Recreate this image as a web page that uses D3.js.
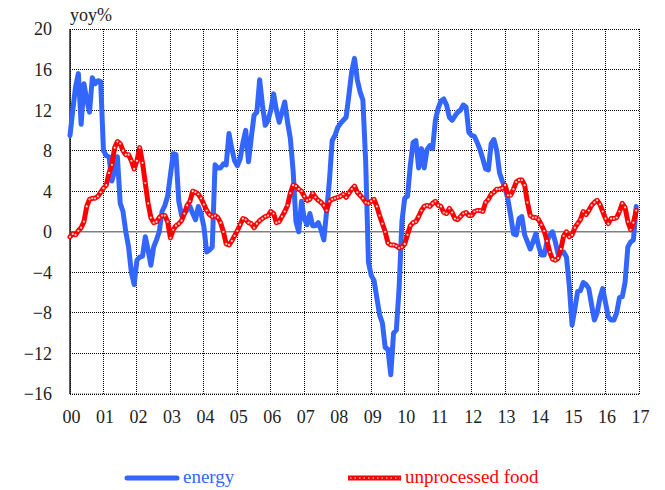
<!DOCTYPE html>
<html>
<head>
<meta charset="utf-8">
<script src="https://cdn.jsdelivr.net/npm/d3@7/dist/d3.min.js"></script>
<style>
  html, body { margin: 0; padding: 0; background: #fff; }
  svg { display: block; }
  text { font-family: "Liberation Serif", "Times New Roman", serif; }
</style>
</head>
<body>
<svg id="chart" width="665" height="490"></svg>
<script>
// Monthly year-on-year inflation, Jan 2000 - Dec 2016
const startYear = 2000;

const energy = [
  // 2000
  9.5, 12.0, 14.3, 15.6, 10.6, 14.6, 13.0, 11.8, 15.2, 14.6, 14.9, 14.8,
  // 2001
  8.0, 7.5, 7.4, 5.0, 6.0, 7.4, 2.8, 2.0, 0.0, -1.5, -4.0, -5.2,
  // 2002
  -2.8, -2.5, -2.4, -0.5, -1.8, -3.3, -1.5, -0.8, 0.0, 2.0, 2.6, 3.5,
  // 2003
  5.6, 7.7, 7.6, 3.0, 1.6, 1.8, 2.2, 2.5, 1.8, 1.2, 2.5, 1.8,
  // 2004
  0.5, -2.0, -1.8, -1.5, 6.6, 6.3, 6.3, 6.7, 6.6, 9.7, 8.2, 7.0,
  // 2005
  6.5, 7.2, 8.8, 10.0, 6.9, 9.3, 11.5, 11.8, 15.0, 12.5, 10.5, 11.0,
  // 2006
  12.0, 13.6, 12.0, 10.8, 11.8, 12.8, 10.8, 9.2, 6.0, 1.0, 0.0, 3.0,
  // 2007
  1.3, 0.7, 1.8, 0.6, 0.6, 0.9, 0.2, -0.8, 2.0, 5.0, 9.0, 9.5,
  // 2008
  10.3, 10.7, 11.0, 11.3, 13.5, 15.8, 17.1, 15.0, 13.8, 13.0, 7.0, -3.0,
  // 2009
  -4.3, -4.8, -6.5, -8.2, -9.0, -11.4, -11.6, -14.1, -10.0, -9.7, -5.5, 1.0,
  // 2010
  3.3, 3.5, 6.5, 8.8, 9.0, 6.3, 8.2, 6.3, 8.1, 8.5, 8.2, 11.0,
  // 2011
  12.2, 12.9, 13.1, 12.5, 11.3, 11.0, 11.4, 11.8, 12.0, 12.5, 12.3, 9.8,
  // 2012
  9.5, 9.4, 8.8, 8.1, 7.2, 6.2, 6.1, 8.7, 9.1, 8.0, 5.8, 5.0,
  // 2013
  4.3, 3.2, 1.6, -0.2, -0.3, 1.3, 1.5, -0.3, -1.0, -1.7, -1.0, -0.2,
  // 2014
  -1.4, -2.3, -2.3, -1.0, -0.3, 0.0, -1.0, -2.2, -2.1, -2.0, -2.5, -5.3,
  // 2015
  -9.2, -7.6, -5.9, -5.8, -5.0, -5.2, -5.6, -7.2, -8.7, -8.0, -6.5, -5.6,
  // 2016
  -7.0, -8.4, -8.7, -8.7, -8.0, -6.5, -6.4, -5.0, -1.5, -1.0, -0.8, 2.5
];

const unprocessedFood = [
  // 2000
  -0.5, -0.2, -0.3, 0.1, 0.4, 1.0, 2.5, 3.2, 3.3, 3.3, 3.5, 3.9,
  // 2001
  4.3, 4.6, 5.8, 6.6, 8.3, 8.9, 8.7, 8.0, 7.6, 7.6, 7.0, 6.2,
  // 2002
  7.0, 8.3, 6.8, 4.8, 2.8, 1.4, 0.9, 1.0, 1.4, 1.6, 1.6, 1.0,
  // 2003
  -0.6, 0.2, 0.6, 0.8, 1.1, 1.8, 2.6, 3.0, 4.0, 3.9, 3.7, 3.3,
  // 2004
  2.7, 2.1, 1.7, 1.5, 1.6, 1.4, 0.9, 0.0, -1.2, -1.3, -0.9, -0.4,
  // 2005
  0.1, 0.7, 1.3, 1.2, 0.9, 0.8, 0.4, 0.8, 1.1, 1.3, 1.5, 1.6,
  // 2006
  2.0, 1.8, 0.9, 1.0, 1.5, 2.0, 2.6, 3.8, 4.6, 4.5, 4.2, 4.0,
  // 2007
  3.5, 3.1, 3.2, 3.8, 3.4, 3.1, 2.9, 2.6, 2.1, 3.0, 3.2, 3.3,
  // 2008
  3.4, 3.5, 3.7, 3.4, 3.8, 4.2, 4.5, 3.9, 3.6, 3.3, 2.9, 2.8,
  // 2009
  3.0, 3.2, 2.5, 1.6, 0.8, 0.0, -1.1, -1.3, -1.3, -1.4, -1.6, -1.5,
  // 2010
  -1.2, -0.3, 0.6, 0.9, 1.0, 1.5, 2.1, 2.5, 2.6, 2.5, 2.8, 3.0,
  // 2011
  2.6, 2.5, 1.9, 1.8, 2.3, 1.9, 1.3, 1.2, 1.5, 1.8, 1.9, 1.6,
  // 2012
  1.6, 2.0, 2.1, 2.1, 2.0, 2.9, 3.2, 3.7, 3.9, 4.2, 4.2, 4.3,
  // 2013
  4.6, 3.6, 3.6, 4.2, 4.9, 5.1, 5.1, 4.6, 2.9, 1.6, 1.4, 1.4,
  // 2014
  1.2, 0.7, 0.1, -0.9, -2.0, -2.7, -2.8, -2.6, -1.7, -0.4, 0.0, -0.5,
  // 2015
  -0.3, 0.4, 0.8, 1.2, 2.0, 1.7, 2.1, 2.6, 2.9, 3.1, 2.7, 2.0,
  // 2016
  1.3, 0.8, 1.3, 1.3, 1.4, 2.0, 2.8, 2.4, 1.0, 0.2, 0.9, 2.1
];

const yTicks = [-16, -12, -8, -4, 0, 4, 8, 12, 16, 20];
const xTickLabels = ["00","01","02","03","04","05","06","07","08","09",
                     "10","11","12","13","14","15","16","17"];
const seriesNames = ["energy", "unprocessed food"];

const colors = { energy: "#3366ff", food: "#ff0000" };

const svg = d3.select("#chart");
const plot = { left: 70, right: 639, top: 29, bottom: 394 };

const x = d3.scaleLinear().domain([startYear, startYear + 17]).range([plot.left, plot.right]);
const y = d3.scaleLinear().domain([-16, 20]).range([plot.bottom, plot.top]);

const yearTicks = xTickLabels.map((_, i) => startYear + i);

// dotted grid
const grid = svg.append("g").attr("class", "grid");
grid.selectAll("line.h").data(yTicks).join("line")
  .attr("x1", plot.left).attr("x2", plot.right)
  .attr("y1", d => y(d)).attr("y2", d => y(d))
  .attr("stroke", "#000").attr("stroke-width", 1)
  .attr("stroke-dasharray", "1,1")
  .attr("shape-rendering", "crispEdges");
grid.selectAll("line.v").data(yearTicks).join("line")
  .attr("x1", d => x(d)).attr("x2", d => x(d))
  .attr("y1", plot.top).attr("y2", plot.bottom)
  .attr("stroke", "#000").attr("stroke-width", 1)
  .attr("stroke-dasharray", "1,1")
  .attr("shape-rendering", "crispEdges");

// zero line
svg.append("line")
  .attr("x1", plot.left).attr("x2", plot.right)
  .attr("y1", y(0)).attr("y2", y(0))
  .attr("stroke", "#808080").attr("stroke-width", 1.6);

// left axis line
svg.append("line")
  .attr("x1", plot.left).attr("x2", plot.left)
  .attr("y1", plot.top).attr("y2", plot.bottom)
  .attr("stroke", "#000").attr("stroke-width", 1.3);
svg.append("line")
  .attr("x1", plot.left).attr("x2", plot.right)
  .attr("y1", plot.bottom).attr("y2", plot.bottom)
  .attr("stroke", "#000").attr("stroke-width", 0.8)
  .attr("stroke-dasharray", "1,1");

// y axis labels
const yAxis = d3.axisLeft(y).tickValues(yTicks).tickSize(0).tickPadding(0).tickFormat(d3.format("d"));
const yg = svg.append("g").attr("transform", `translate(${plot.left - 18},0)`).call(yAxis);
yg.select(".domain").remove();
yg.selectAll("text")
  .attr("font-family", "Liberation Serif, serif")
  .attr("font-size", 18).attr("fill", "#222").attr("dy", "0.33em");

// x axis labels
const xAxis = d3.axisBottom(x).tickValues(yearTicks).tickSize(0).tickPadding(0)
  .tickFormat((d, i) => xTickLabels[i]);
const xg = svg.append("g").attr("transform", `translate(1,${plot.bottom + 29})`).call(xAxis);
xg.select(".domain").remove();
xg.selectAll("text")
  .attr("font-family", "Liberation Serif, serif")
  .attr("font-size", 18).attr("fill", "#222").attr("dy", 0);

// unit label
svg.append("text").attr("x", 70).attr("y", 21)
  .attr("font-size", 18).attr("fill", "#222").text("yoy%");

const toPoints = arr => arr.map((v, i) => ({ t: startYear + i / 12, v }));
const line = d3.line().x(d => x(d.t)).y(d => y(d.v)).curve(d3.curveLinear);

const energyPts = toPoints(energy);
const foodPts = toPoints(unprocessedFood);

svg.append("path").datum(energyPts)
  .attr("d", line).attr("fill", "none")
  .attr("stroke", colors.energy).attr("stroke-width", 5)
  .attr("stroke-linejoin", "round").attr("stroke-linecap", "round");

svg.append("path").datum(foodPts)
  .attr("d", line).attr("fill", "none")
  .attr("stroke", colors.food).attr("stroke-width", 5)
  .attr("stroke-linejoin", "round").attr("stroke-linecap", "round");

// light markers on every monthly observation
svg.append("g").selectAll("circle").data(foodPts).join("circle")
  .attr("cx", d => x(d.t)).attr("cy", d => y(d.v)).attr("r", 1.1)
  .attr("fill", "#ffd6d6");

// legend
const legY = 478;
svg.append("line").attr("x1", 127).attr("x2", 177).attr("y1", legY).attr("y2", legY)
  .attr("stroke", colors.energy).attr("stroke-width", 5).attr("stroke-linecap", "round");
svg.append("text").attr("x", 183).attr("y", legY + 5)
  .attr("font-size", 19).attr("fill", colors.energy).text(seriesNames[0]);

svg.append("line").attr("x1", 348).attr("x2", 401).attr("y1", legY).attr("y2", legY)
  .attr("stroke", colors.food).attr("stroke-width", 5);
svg.append("line").attr("x1", 350).attr("x2", 400).attr("y1", legY).attr("y2", legY)
  .attr("stroke", "#ffb0b0").attr("stroke-width", 1.5).attr("stroke-dasharray", "1.5,3");
svg.append("text").attr("x", 405).attr("y", legY + 5)
  .attr("font-size", 19).attr("fill", colors.food).text(seriesNames[1]);
</script>
</body>
</html>
